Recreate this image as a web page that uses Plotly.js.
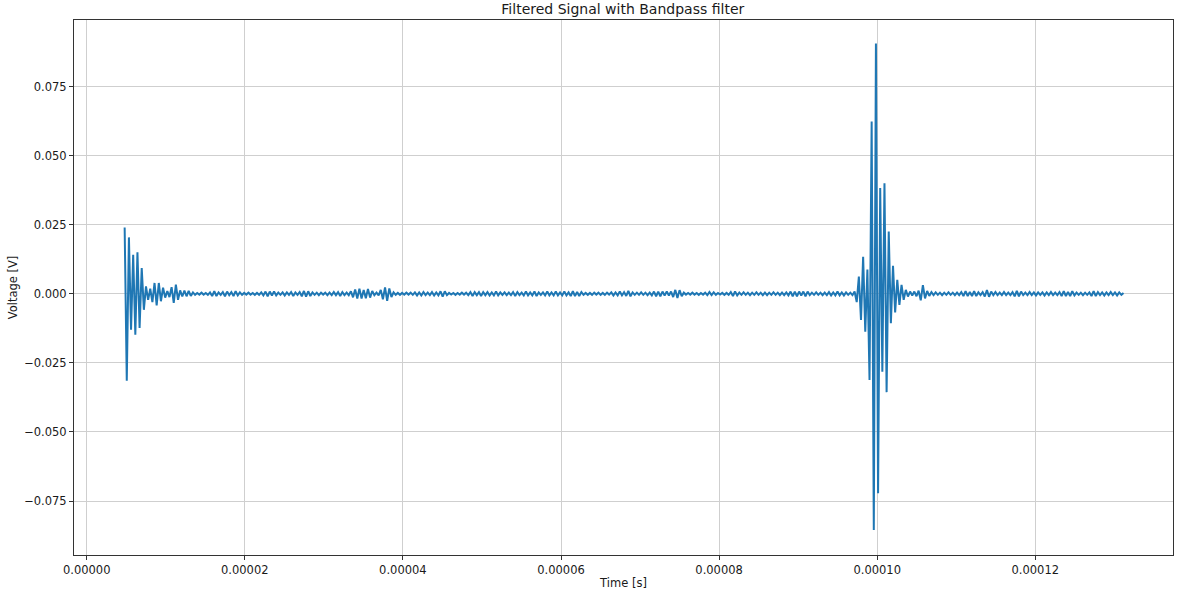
<!DOCTYPE html>
<html>
<head>
<meta charset="utf-8">
<script src="https://cdn.plot.ly/plotly-3.0.1.min.js"></script>
<style>
  html, body { margin: 0; padding: 0; background: #ffffff; }
  #chart { width: 1178px; height: 591px; }
</style>
</head>
<body>
<div id="chart"></div>
<script>
// Acquisition timing of the filtered record (seconds)
const sampleStart = 4.8e-6;
const sampleInterval = 2.7e-7;

// Filtered voltage samples [V]
const voltage = [
  0.0240, -0.0315, 0.0204, -0.0130, 0.0141, -0.0148, 0.0150, -0.0124, 0.0093, -0.0058,
  0.0027, -0.0022, 0.0018, -0.0030, 0.0039, -0.0042, 0.0039, -0.0027, 0.0022, -0.0014,
  0.0010, -0.0012, 0.0024, -0.0033, 0.0033, -0.0022, 0.0012, -0.0010, 0.0011, -0.0009,
  0.0010, -0.0008, 0.0005, -0.0004, 0.0003, -0.0003, 0.0004, -0.0003, 0.0003, -0.0004,
  0.0005, -0.0008, 0.0009, -0.0008, 0.0005, -0.0004, 0.0006, -0.0009, 0.0008, -0.0005,
  0.0006, -0.0008, 0.0009, -0.0006, 0.0005, -0.0004, 0.0003, -0.0003, 0.0004, -0.0003,
  0.0003, -0.0004, 0.0003, -0.0004, 0.0005, -0.0006, 0.0008, -0.0009, 0.0008, -0.0006,
  0.0008, -0.0006, 0.0004, -0.0004, 0.0005, -0.0006, 0.0005, -0.0004, 0.0006, -0.0008,
  0.0005, -0.0004, 0.0006, -0.0009, 0.0010, -0.0010, 0.0009, -0.0008, 0.0005, -0.0004,
  0.0004, -0.0005, 0.0004, -0.0003, 0.0004, -0.0005, 0.0004, -0.0005, 0.0006, -0.0005,
  0.0006, -0.0008, 0.0006, -0.0005, 0.0004, -0.0005, 0.0009, -0.0013, 0.0015, -0.0017,
  0.0018, -0.0017, 0.0014, -0.0016, 0.0017, -0.0014, 0.0010, -0.0005, 0.0004, -0.0006,
  0.0014, -0.0020, 0.0023, -0.0026, 0.0019, -0.0012, 0.0005, -0.0004, 0.0003, -0.0004,
  0.0003, -0.0003, 0.0004, -0.0003, 0.0004, -0.0004, 0.0005, -0.0006, 0.0005, -0.0006,
  0.0006, -0.0005, 0.0004, -0.0005, 0.0006, -0.0006, 0.0005, -0.0006, 0.0009, -0.0010,
  0.0009, -0.0005, 0.0003, -0.0003, 0.0003, -0.0004, 0.0003, -0.0003, 0.0004, -0.0003,
  0.0004, -0.0005, 0.0006, -0.0008, 0.0006, -0.0005, 0.0006, -0.0008, 0.0006, -0.0005,
  0.0006, -0.0006, 0.0005, -0.0006, 0.0008, -0.0006, 0.0005, -0.0004, 0.0005, -0.0005,
  0.0004, -0.0005, 0.0006, -0.0008, 0.0006, -0.0005, 0.0004, -0.0006, 0.0008, -0.0006,
  0.0005, -0.0006, 0.0008, -0.0008, 0.0005, -0.0004, 0.0005, -0.0006, 0.0008, -0.0006,
  0.0005, -0.0006, 0.0008, -0.0006, 0.0005, -0.0006, 0.0008, -0.0006, 0.0005, -0.0008,
  0.0009, -0.0008, 0.0006, -0.0008, 0.0006, -0.0004, 0.0003, -0.0004, 0.0003, -0.0004,
  0.0004, -0.0003, 0.0004, -0.0004, 0.0003, -0.0004, 0.0004, -0.0003, 0.0005, -0.0006,
  0.0005, -0.0006, 0.0008, -0.0006, 0.0006, -0.0008, 0.0010, -0.0009, 0.0005, -0.0004,
  0.0004, -0.0004, 0.0005, -0.0004, 0.0004, -0.0005, 0.0004, -0.0006, 0.0008, -0.0009,
  0.0008, -0.0009, 0.0008, -0.0006, 0.0008, -0.0006, 0.0008, -0.0012, 0.0014, -0.0015,
  0.0013, -0.0009, 0.0004, -0.0003, 0.0003, -0.0003, 0.0004, -0.0003, 0.0003, -0.0004,
  0.0003, -0.0003, 0.0004, -0.0005, 0.0006, -0.0005, 0.0005, -0.0004, 0.0003, -0.0003,
  0.0003, -0.0004, 0.0003, -0.0004, 0.0006, -0.0008, 0.0008, -0.0006, 0.0004, -0.0004,
  0.0005, -0.0004, 0.0004, -0.0005, 0.0004, -0.0004, 0.0005, -0.0004, 0.0004, -0.0005,
  0.0004, -0.0005, 0.0004, -0.0004, 0.0005, -0.0004, 0.0004, -0.0005, 0.0004, -0.0005,
  0.0005, -0.0006, 0.0008, -0.0009, 0.0008, -0.0009, 0.0008, -0.0006, 0.0008, -0.0009,
  0.0008, -0.0005, 0.0004, -0.0004, 0.0005, -0.0004, 0.0004, -0.0005, 0.0004, -0.0005,
  0.0006, -0.0006, 0.0005, -0.0006, 0.0008, -0.0006, 0.0005, -0.0006, 0.0005, -0.0004,
  0.0004, -0.0005, 0.0008, -0.0030, 0.0062, -0.0095, 0.0134, -0.0137, 0.0088, -0.0312,
  0.0623, -0.0855, 0.0906, -0.0722, 0.0383, -0.0282, 0.0400, -0.0356, 0.0225, -0.0107,
  0.0101, -0.0068, 0.0050, -0.0040, 0.0032, -0.0022, 0.0014, -0.0010, 0.0008, -0.0006,
  0.0008, -0.0009, 0.0011, -0.0024, 0.0031, -0.0017, 0.0010, -0.0008, 0.0006, -0.0005,
  0.0005, -0.0004, 0.0004, -0.0005, 0.0004, -0.0004, 0.0005, -0.0004, 0.0004, -0.0005,
  0.0004, -0.0005, 0.0006, -0.0008, 0.0009, -0.0008, 0.0006, -0.0008, 0.0009, -0.0008,
  0.0005, -0.0005, 0.0006, -0.0010, 0.0013, -0.0011, 0.0008, -0.0005, 0.0006, -0.0005,
  0.0004, -0.0005, 0.0006, -0.0005, 0.0004, -0.0005, 0.0006, -0.0009, 0.0010, -0.0009,
  0.0008, -0.0005, 0.0004, -0.0005, 0.0006, -0.0005, 0.0005, -0.0006, 0.0005, -0.0004,
  0.0005, -0.0006, 0.0005, -0.0005, 0.0006, -0.0005, 0.0004, -0.0005, 0.0006, -0.0008,
  0.0009, -0.0008, 0.0006, -0.0008, 0.0009, -0.0006, 0.0004, -0.0004, 0.0004, -0.0005,
  0.0004, -0.0004, 0.0005, -0.0008, 0.0009, -0.0008, 0.0006, -0.0005, 0.0005, -0.0006,
  0.0005, -0.0005, 0.0006, -0.0005, 0.0005, -0.0006, 0.0005, -0.0004, 0.0003
];

// Tick labels as printed on the axes
const timeTicks = [0, 0.00002, 0.00004, 0.00006, 0.00008, 0.00010, 0.00012];
const timeTickText = ["0.00000", "0.00002", "0.00004", "0.00006", "0.00008", "0.00010", "0.00012"];
const voltTicks = [-0.075, -0.050, -0.025, 0.000, 0.025, 0.050, 0.075];
const voltTickText = ["\u22120.075", "\u22120.050", "\u22120.025", "0.000", "0.025", "0.050", "0.075"];

const time = voltage.map((_, i) => sampleStart + i * sampleInterval);

const font = "DejaVu Sans, Liberation Sans, sans-serif";

const trace = {
  x: time,
  y: voltage,
  type: "scatter",
  mode: "lines",
  line: { color: "#1f77b4", width: 2 },
  hoverinfo: "skip"
};

const layout = {
  width: 1178,
  height: 591,
  paper_bgcolor: "#ffffff",
  plot_bgcolor: "#ffffff",
  showlegend: false,
  margin: { l: 74, r: 5, t: 20, b: 36, pad: 0 },
  font: { family: font, color: "#1a1a1a", size: 11.5 },
  title: {
    text: "Filtered Signal with Bandpass filter",
    font: { family: font, size: 14, color: "#1a1a1a" },
    x: 0.5287, xanchor: "center", xref: "container",
    y: 0.984, yanchor: "middle", yref: "container"
  },
  xaxis: {
    range: [-1.607e-6, 1.3742e-4],
    tickmode: "array",
    tickvals: timeTicks,
    ticktext: timeTickText,
    ticks: "outside", ticklen: 4, tickwidth: 1, tickcolor: "#333333",
    showgrid: true, gridcolor: "#cfcfcf", gridwidth: 1,
    zeroline: false,
    showline: true, linecolor: "#333333", linewidth: 1, mirror: true,
    tickfont: { family: font, size: 11.5, color: "#1a1a1a" },
    title: { text: "Time [s]", font: { family: font, size: 11.5, color: "#1a1a1a" }, standoff: 3 },
    automargin: false
  },
  yaxis: {
    range: [-0.09454, 0.09907],
    tickmode: "array",
    tickvals: voltTicks,
    ticktext: voltTickText,
    ticks: "outside", ticklen: 4, tickwidth: 1, tickcolor: "#333333",
    showgrid: true, gridcolor: "#cfcfcf", gridwidth: 1,
    zeroline: false,
    showline: true, linecolor: "#333333", linewidth: 1, mirror: true,
    tickfont: { family: font, size: 11.5, color: "#1a1a1a" },
    title: { text: "Voltage [V]", font: { family: font, size: 11.5, color: "#1a1a1a" }, standoff: 4 },
    automargin: false
  }
};

Plotly.newPlot("chart", [trace], layout, { displayModeBar: false, staticPlot: true });
</script>
</body>
</html>
